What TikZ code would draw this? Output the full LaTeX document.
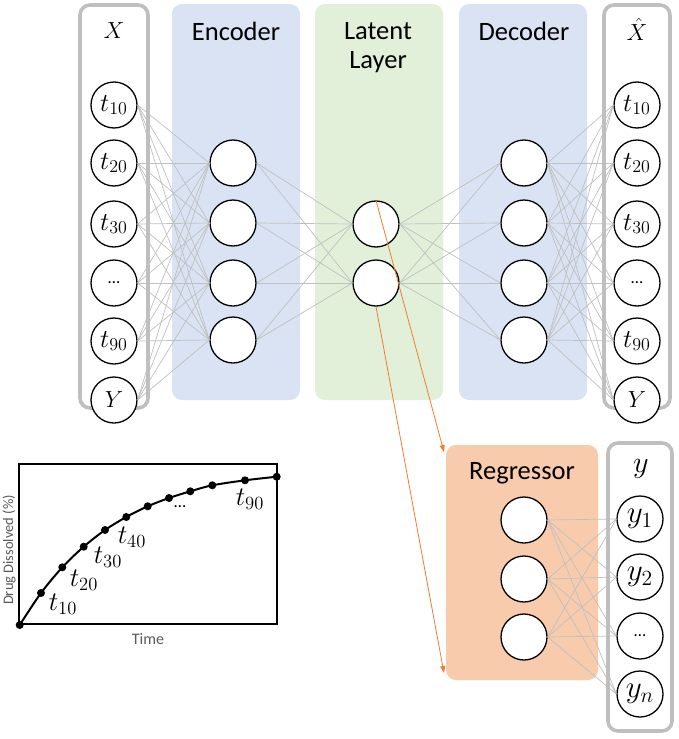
\documentclass[tikz,border=0pt]{standalone}
\usepackage{fontspec}
\setmainfont{Carlito}
\usetikzlibrary{arrows.meta}
\definecolor{encblue}{HTML}{DAE3F3}
\definecolor{latgreen}{HTML}{E2F0D9}
\definecolor{regorange}{HTML}{F8CBAD}
\definecolor{colgray}{HTML}{BFBFBF}
\definecolor{linkgray}{HTML}{C0C0C0}
\definecolor{arrorange}{HTML}{ED7D31}
\definecolor{axisgray}{HTML}{595959}
\newcommand{\mlab}[2][1.5]{\scalebox{#1}{$#2$}}
\begin{document}
\begin{tikzpicture}[x=1pt,y=-1pt,
  neuron/.style={circle,draw=black,line width=1.3pt,fill=white,minimum size=46pt,inner sep=0pt,font=\fontsize{17}{18}\selectfont},
  layerbox/.style={rounded corners=10pt},
  colbox/.style={draw=colgray,line width=3.6pt,fill=white,rounded corners=10pt},
  link/.style={draw=linkgray,line width=0.7pt},
  title/.style={font=\fontsize{26.5}{28}\selectfont},
  coltitle/.style={font=\fontsize{17}{18}\selectfont},
  orangearrow/.style={draw=arrorange,line width=0.8pt,-{Triangle[length=7pt,width=5pt]}},
  dot/.style={circle,fill=black,inner sep=0pt,minimum size=8pt},
  chartlabel/.style={font=\fontsize{17}{18}\selectfont},
  axislabel/.style={text=axisgray}]
\useasboundingbox (0,0) rectangle (679,739);

% background boxes
\fill[encblue,layerbox] (172,4) rectangle (300,400);
\fill[latgreen,layerbox] (315,4) rectangle (443,400);
\fill[encblue,layerbox] (459,4) rectangle (587,400);
\fill[regorange,layerbox] (446,445) rectangle (598,680);
\draw[colbox] (80,5) rectangle (148,408);
\draw[colbox] (604,5) rectangle (670,408);
\draw[colbox] (608,443) rectangle (672,731);

% titles
\node[coltitle] (tX) at (114,31) {\mlab[1.35]{X}};
\node[title] (tEnc) at (236,31) {Encoder};
\node[title] (tLat1) at (378,31) {Latent};
\node[title] (tLat2) at (378,62) {Layer};
\node[title] (tDec) at (524,31) {Decoder};
\node[coltitle] (tXh) at (637,29) {\mlab[1.35]{\hat{X}}};
\node[title] (tReg) at (522,473) {Regressor};
\node[coltitle] (ty) at (641,469) {\mlab[1.75]{y}};

% input nodes
\node[neuron] (x1) at (114,105) {\mlab{t_{10}}};
\node[neuron] (x2) at (114,163) {\mlab{t_{20}}};
\node[neuron] (x3) at (114,224) {\mlab{t_{30}}};
\node[neuron] (x4) at (114,283) {\ldots};
\node[neuron] (x5) at (114,341) {\mlab{t_{90}}};
\node[neuron] (x6) at (114,400) {\mlab[1.35]{Y}};
% encoder
\node[neuron] (e1) at (233,163) {};
\node[neuron] (e2) at (233,223) {};
\node[neuron] (e3) at (233,283) {};
\node[neuron] (e4) at (233,340) {};
% latent
\node[neuron] (l1) at (376,224) {};
\node[neuron] (l2) at (376,283) {};
% decoder
\node[neuron] (d1) at (524,163) {};
\node[neuron] (d2) at (524,223) {};
\node[neuron] (d3) at (524,283) {};
\node[neuron] (d4) at (524,340) {};
% output nodes
\node[neuron] (o1) at (637,105) {\mlab{t_{10}}};
\node[neuron] (o2) at (637,163) {\mlab{t_{20}}};
\node[neuron] (o3) at (637,224) {\mlab{t_{30}}};
\node[neuron] (o4) at (637,283) {\ldots};
\node[neuron] (o5) at (637,341) {\mlab{t_{90}}};
\node[neuron] (o6) at (637,400) {\mlab[1.35]{Y}};
% regressor
\node[neuron] (r1) at (524,520) {};
\node[neuron] (r2) at (524,579) {};
\node[neuron] (r3) at (524,637) {};
% y outputs
\node[neuron] (y1) at (640,519) {\mlab[1.8]{y_1}};
\node[neuron] (y2) at (640,577) {\mlab[1.8]{y_2}};
\node[neuron] (y3) at (640,636) {\ldots};
\node[neuron] (y4) at (640,694) {\mlab[1.8]{y_n}};

% links
\foreach \i in {1,...,6}{\foreach \j in {1,...,4}{\draw[link] (x\i.east) -- (e\j.west);}}
\foreach \i in {1,...,4}{\foreach \j in {1,2}{\draw[link] (e\i.east) -- (l\j.west);}}
\foreach \i in {1,2}{\foreach \j in {1,...,4}{\draw[link] (l\i.east) -- (d\j.west);}}
\foreach \i in {1,...,4}{\foreach \j in {1,...,6}{\draw[link] (d\i.east) -- (o\j.west);}}
\foreach \i in {1,2,3}{\foreach \j in {1,...,4}{\draw[link] (r\i.east) -- (y\j.west);}}

% orange arrows
\coordinate (a1) at (444,452);
\coordinate (a2) at (444,673);
\draw[orangearrow] (l1.north) -- (a1);
\draw[orangearrow] (l2.south) -- (a2);

% chart
\node[draw=black,line width=1.2pt,minimum width=258pt,minimum height=160pt,inner sep=0pt] (frame) at (148,544) {};
\draw[line width=2pt] plot[smooth] coordinates {(19.7,625) (41,593) (62.3,567.3) (83.7,546.7) (105,530) (126.3,517) (147.7,506.3) (169,498) (190.3,491.3) (212.3,485.3) (245,480.3) (276.7,476.7)};
\foreach \p [count=\k] in {(19.7,625),(41,593),(62.3,567.3),(83.7,546.7),(105,530),(126.3,517),(147.7,506.3),(169,498),(190.3,491.3),(212.3,485.3),(245,480.3),(276.7,476.7)}{\node[dot] (p\k) at \p {};}
\node[chartlabel] (c10) at (63,604) {\mlab[1.55]{t_{10}}};
\node[chartlabel] (c20) at (84,580) {\mlab[1.55]{t_{20}}};
\node[chartlabel] (c30) at (108,557) {\mlab[1.55]{t_{30}}};
\node[chartlabel] (c40) at (132,537) {\mlab[1.55]{t_{40}}};
\node[chartlabel] (cdots) at (180,507) {\ldots};
\node[chartlabel] (c90) at (250,499) {\mlab[1.55]{t_{90}}};
\node[axislabel,font=\fontsize{16}{17}\selectfont] (time) at (148,639) {Time};
\node[axislabel,rotate=90,font=\fontsize{14.5}{16}\selectfont] (drug) at (9,550) {Drug Dissolved (\%)};
\end{tikzpicture}
\end{document}
